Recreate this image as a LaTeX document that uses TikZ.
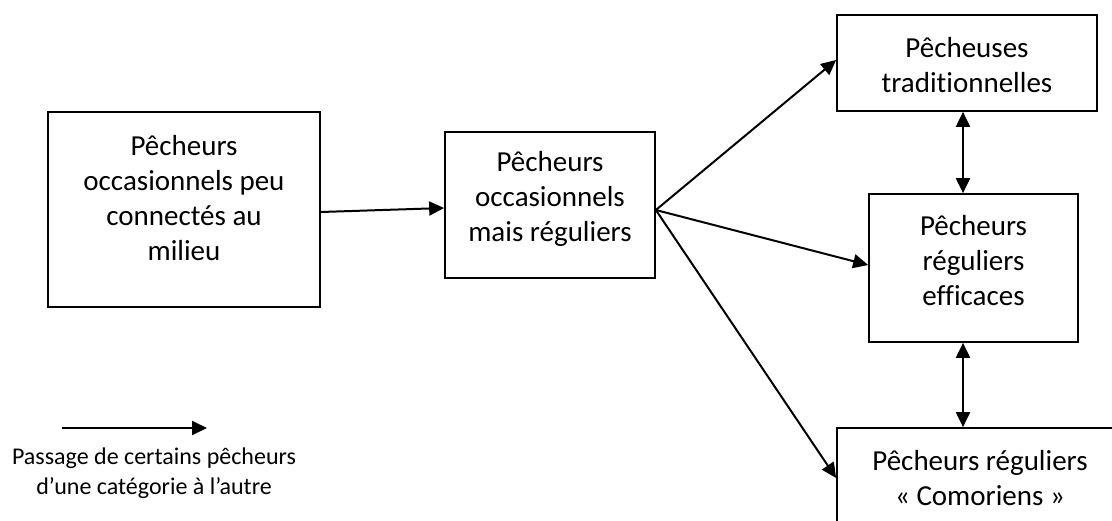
\documentclass[tikz,border=0pt]{standalone}
\usepackage{fontspec}
\setmainfont{Carlito}[Ligatures={NoCommon}]
\usetikzlibrary{arrows.meta}
\tikzset{
  catbox/.style={draw, line width=1.7pt, rectangle, inner sep=0pt},
  cattext/.style={align=center, inner sep=0pt, font=\fontsize{29}{35}\selectfont},
  keytext/.style={align=center, inner sep=0pt, font=\fontsize{24}{29.5}\selectfont},
  flow/.style={line width=2pt, -{Triangle[length=15pt,width=14pt]}},
  twoway/.style={line width=2pt, {Triangle[length=15pt,width=14pt]}-{Triangle[length=15pt,width=14pt]}},
}
\begin{document}
\begin{tikzpicture}[x=1pt, y=-1pt]
  \useasboundingbox (0,0) rectangle (1112,520);
  \clip (0,0) rectangle (1112,520);
  \fill[white] (0,0) rectangle (1112,520);

  % category boxes
  \node[catbox, minimum width=272pt, minimum height=195pt] (A) at (184,209.5) {};
  \node[catbox, minimum width=210pt, minimum height=146pt] (B) at (550,205) {};
  \node[catbox, minimum width=260pt, minimum height=96pt]  (C) at (967,63) {};
  \node[catbox, minimum width=209pt, minimum height=148pt] (D) at (973.5,268) {};
  \node[catbox, minimum width=286pt, minimum height=102pt] (E) at (980,479) {};

  % box captions
  \node[cattext] (At) at (184,198.5) {Pêcheurs\\occasionnels peu\\connectés au\\milieu};
  \node[cattext] (Bt) at (550,199) {Pêcheurs\\occasionnels\\mais réguliers};
  \node[cattext] (Ct) at (967,65) {Pêcheuses\\traditionnelles};
  \node[cattext] (Dt) at (973.5,261) {Pêcheurs\\réguliers\\efficaces};
  \node[cattext] (Et) at (980,478.5) {Pêcheurs réguliers\\« Comoriens »};

  % transitions between categories
  \coordinate (fan) at ([yshift=-5pt]B.east);
  \draw[flow] ([yshift=-2.5pt]A.east) -- ([yshift=-3pt]B.west);
  \draw[flow] (fan) -- ([yshift=3pt]C.west);
  \draw[flow] (fan) -- ([yshift=3pt]D.west);
  \draw[flow] (fan) -- ([yshift=1pt]E.west);
  \draw[twoway] ([xshift=-4pt]C.south) -- ([xshift=-10.5pt]D.north);
  \draw[twoway] ([xshift=-10.5pt]D.south) -- ([xshift=-17pt]E.north);

  % key
  \coordinate (keyL) at (62,428);
  \coordinate (keyR) at (207,428);
  \draw[flow] (keyL) -- (keyR);
  \node[keytext] (keyT) at (154,473) {Passage de certains pêcheurs\\d’une catégorie à l’autre};
\end{tikzpicture}
\end{document}
